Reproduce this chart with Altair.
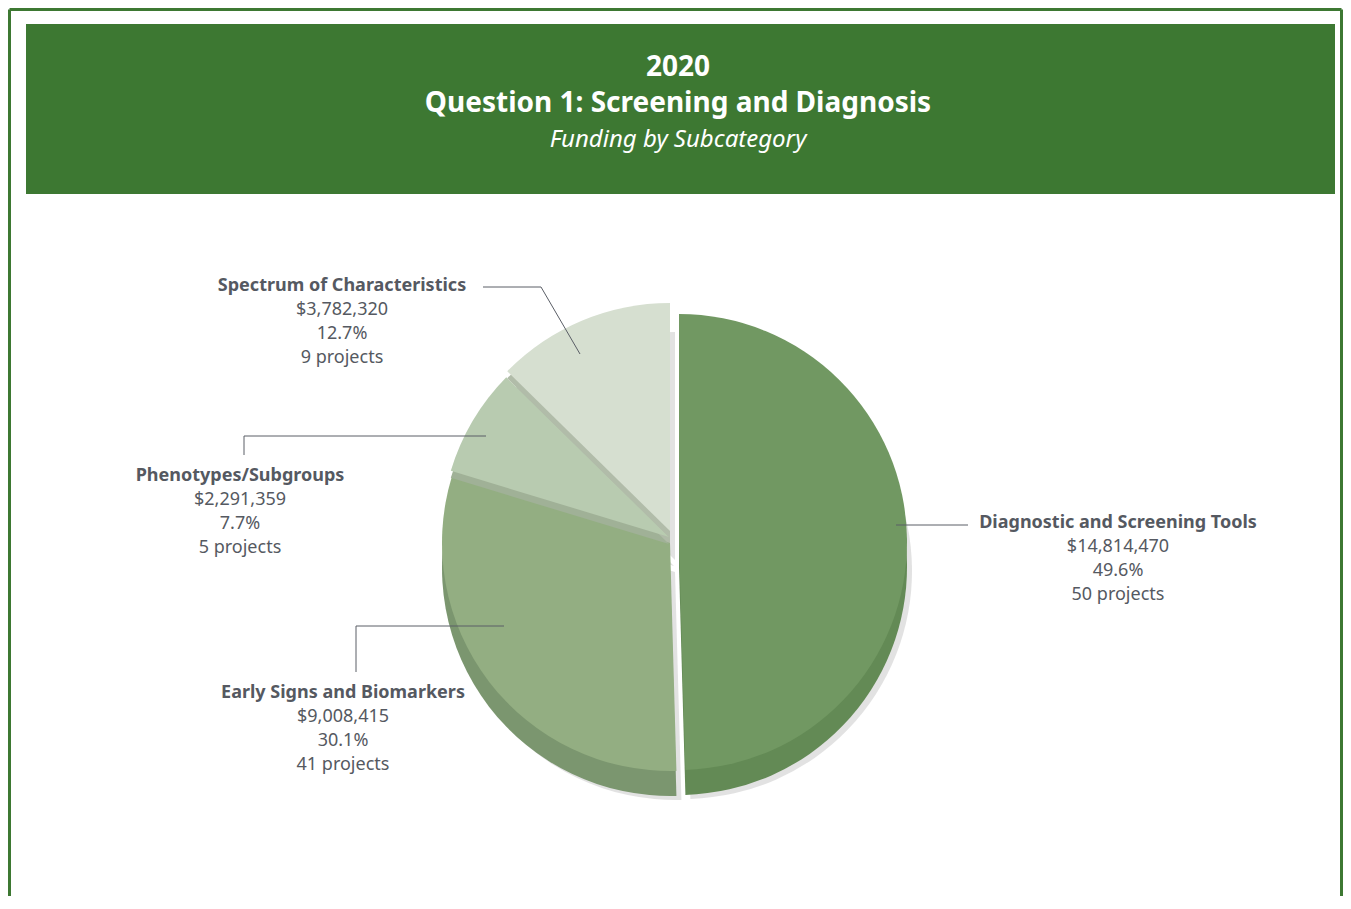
import altair as alt
import pandas as pd

# ---------------- data ----------------
categories = ["Diagnostic and Screening Tools", "Early Signs and Biomarkers",
              "Phenotypes/Subgroups", "Spectrum of Characteristics"]
funding = [14814470, 9008415, 2291359, 3782320]
percent = [49.6, 30.1, 7.7, 12.7]
projects = [50, 41, 5, 9]

title_lines = ["2020", "Question 1: Screening and Diagnosis", "Funding by Subcategory"]

# ---------------- layout / style ----------------
OFF = 8                       # page margin (page px -> chart px)
W, H = 1335, 888
GREEN = "#3d7832"
TEXT = "#555961"
FONT = "Noto Sans"
R = 228
DEPTH = 25

top_color = {categories[0]: "#719862", categories[1]: "#93ae82",
             categories[2]: "#b8cbb0", categories[3]: "#d6dfd0"}
side_color = {categories[0]: "#638a55", categories[1]: "#7b966f",
              categories[2]: "#9fb096", categories[3]: "#b0bba8"}
edge_color = {categories[2]: "#a0b197", categories[3]: "#b1bca9"}
# slice centres in page pixels (exploded slices)
centre = {categories[0]: (679, 542), categories[1]: (670, 543),
          categories[2]: (669, 537), categories[3]: (670, 531)}
# label anchors (page px): centre x, first line centre y
label_pos = {categories[0]: (1118, 523), categories[1]: (343, 693),
             categories[2]: (240, 476), categories[3]: (342, 286)}
LINE_H = 24
leaders = [  # page px segments
    (483, 287, 541, 287), (541, 287, 580, 354),
    (244, 455, 244, 436), (244, 436, 486, 436),
    (356, 672, 356, 626), (356, 626, 504, 626),
    (896, 525, 968, 525),
]

# ---------------- pie ----------------
pie_df = pd.DataFrame({"cat": categories, "funding": funding,
                       "order": list(range(len(categories)))})

base = (alt.Chart(pie_df)
        .transform_window(cum="sum(funding)", frame=[None, 0],
                          sort=[alt.SortField("order")])
        .transform_joinaggregate(total="sum(funding)")
        .transform_calculate(t1="(datum.cum - datum.funding) / datum.total * 2 * PI",
                             t2="datum.cum / datum.total * 2 * PI"))


def wedge(cat, dx, dy, color, opacity=1.0):
    cx, cy = centre[cat]
    return (base.transform_filter(alt.datum.cat == cat)
            .mark_arc(radius=R, color=color, opacity=opacity, stroke=None)
            .encode(theta=alt.Theta("t1:Q", scale=None), theta2="t2:Q",
                    x=alt.value(cx - OFF + dx), y=alt.value(cy - OFF + dy)))


layers = []

# frame
frame_df = pd.DataFrame({"x": [1.5, 1.5, W - 1.5], "y": [1.5, 1.5, 1.5],
                         "x2": [1.5, W - 1.5, W - 1.5], "y2": [H, 1.5, H]})
layers.append(alt.Chart(frame_df).mark_rule(color=GREEN, strokeWidth=3).encode(
    x=alt.X("x:Q", scale=None), y=alt.Y("y:Q", scale=None),
    x2="x2:Q", y2="y2:Q"))

# banner
layers.append(alt.Chart(pd.DataFrame({"a": [0]})).mark_rect(color=GREEN).encode(
    x=alt.value(26 - OFF), x2=alt.value(1335 - OFF),
    y=alt.value(24 - OFF), y2=alt.value(194 - OFF)))

title_df = pd.DataFrame({"t": title_lines})
title_y = [68, 104, 140]
title_size = [28, 28, 24]
for i, line in enumerate(title_lines):
    layers.append(alt.Chart(title_df).transform_filter(alt.datum.t == line)
                  .mark_text(font=FONT, fontSize=title_size[i],
                             fontWeight="bold" if i < 2 else "normal",
                             fontStyle="italic" if i == 2 else "normal",
                             color="white", align="center", baseline="middle")
                  .encode(text="t:N", x=alt.value(678 - OFF), y=alt.value(title_y[i] - OFF)))

# shadow + sides
for c in categories:
    layers.append(wedge(c, 5, DEPTH + 4, "#cfcfcf", 0.6))
for c in categories:
    layers.append(wedge(c, 0, DEPTH, side_color[c]))
# tops (back-to-front with thin edges)
layers.append(wedge(categories[1], 0, 0, top_color[categories[1]]))
layers.append(wedge(categories[2], 0, 7, edge_color[categories[2]]))
layers.append(wedge(categories[2], 0, 0, top_color[categories[2]]))
layers.append(wedge(categories[3], 0, 7, edge_color[categories[3]]))
layers.append(wedge(categories[3], 0, 0, top_color[categories[3]]))
layers.append(wedge(categories[0], 0, 0, top_color[categories[0]]))

# leader lines
lead_df = pd.DataFrame([{"x": a - OFF, "y": b - OFF, "x2": c - OFF, "y2": d - OFF}
                        for a, b, c, d in leaders])
layers.append(alt.Chart(lead_df).mark_rule(color="#5a5e66", strokeWidth=1).encode(
    x=alt.X("x:Q", scale=None), y=alt.Y("y:Q", scale=None),
    x2="x2:Q", y2="y2:Q"))

# labels
rows = []
for c, f, p, n in zip(categories, funding, percent, projects):
    lx, ly = label_pos[c]
    texts = [c, "${:,}".format(f), "{:.1f}%".format(p), "{} projects".format(n)]
    for k, t in enumerate(texts):
        rows.append({"text": t, "bold": k == 0, "x": lx - OFF, "y": ly - OFF + k * LINE_H})
lab_df = pd.DataFrame(rows)
for bold in (True, False):
    layers.append(alt.Chart(lab_df).transform_filter(alt.datum.bold == bold)
                  .mark_text(font=FONT, fontSize=18, fontWeight="bold" if bold else "normal",
                             color=TEXT, align="center", baseline="middle")
                  .encode(text="text:N", x=alt.X("x:Q", scale=None),
                          y=alt.Y("y:Q", scale=None)))

chart = (alt.layer(*layers)
         .properties(width=W, height=H, padding=0,
                     autosize=alt.AutoSizeParams(type="none"))
         .configure_view(stroke=None)
         .configure_axis(grid=False))

chart.save("out.html", embed_options={"renderer": "svg", "actions": False})
